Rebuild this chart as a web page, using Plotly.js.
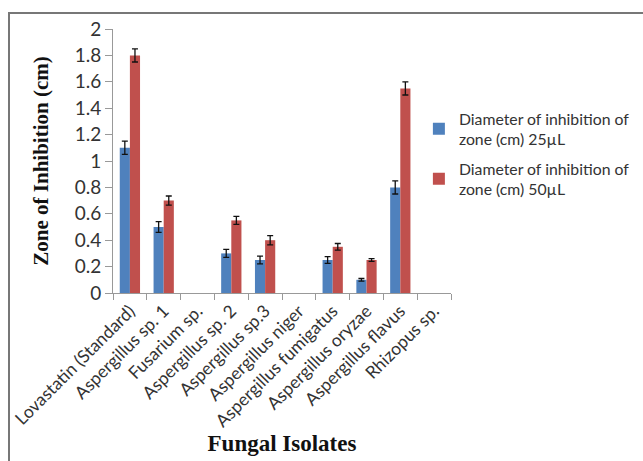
<!DOCTYPE html>
<html>
<head>
<meta charset="utf-8">
<script src="https://cdn.plot.ly/plotly-3.0.1.min.js"></script>
<style>
html,body{margin:0;padding:0;background:#fff;}
#wrap{position:relative;width:643px;height:461px;}
#frame{position:absolute;left:8px;top:12px;width:640px;height:460px;border-top:2px solid #777;border-left:2px solid #777;box-sizing:border-box;pointer-events:none;}
#chart{position:absolute;left:0;top:0;width:643px;height:461px;}
</style>
</head>
<body>
<div id="wrap"><div id="chart"></div><div id="frame"></div></div>
<script>
const categories = ["Lovastatin (Standard)", "Aspergillus sp. 1", "Fusarium sp.", "Aspergillus sp. 2", "Aspergillus sp.3", "Aspergillus niger", "Aspergillus fumigatus", "Aspergillus oryzae", "Aspergillus flavus", "Rhizopus sp."];
const series25 = [1.1, 0.5, null, 0.3, 0.25, null, 0.25, 0.1, 0.8, null];
const err25 = [0.05, 0.04, null, 0.03, 0.03, null, 0.025, 0.01, 0.05, null];
const series50 = [1.8, 0.7, null, 0.55, 0.4, null, 0.35, 0.25, 1.55, null];
const err50 = [0.05, 0.035, null, 0.03, 0.035, null, 0.025, 0.01, 0.05, null];
const seriesNames = ["Diameter of inhibition of<br>zone (cm) 25µL", "Diameter of inhibition of<br>zone (cm) 50µL"];
const yTicks = [0, 0.2, 0.4, 0.6, 0.8, 1, 1.2, 1.4, 1.6, 1.8, 2];

const errStyle = {type: 'data', visible: true, color: '#111', thickness: 1.3, width: 3};
const traces = [
  {type: 'bar', x: categories, y: series25, name: seriesNames[0], legendgroup: 'g25', marker: {color: '#4F81BD'},
   error_y: Object.assign({array: err25}, errStyle)},
  {type: 'bar', x: categories, y: series50, name: seriesNames[1], legendgroup: 'g50', marker: {color: '#C0504D'},
   error_y: Object.assign({array: err50}, errStyle)}
];

const layout = {
  width: 643, height: 461,
  margin: {l: 113, r: 192, t: 29, b: 168, autoexpand: false},
  paper_bgcolor: '#fff', plot_bgcolor: '#fff',
  barmode: 'group', bargap: 0.4, bargroupgap: 0,
  showlegend: true,
  legend: {x: 0.905, xanchor: 'left', y: 0.725, yanchor: 'top', xref: 'paper', yref: 'paper',
    font: {family: 'Lato, "Open Sans", sans-serif', size: 15.8, color: '#333'},
    traceorder: 'grouped', tracegroupgap: 6, itemwidth: 30, bgcolor: 'rgba(0,0,0,0)'},
  xaxis: {
    type: 'category', tickangle: -45, tickson: 'boundaries', ticks: 'outside', ticklen: 6, tickcolor: '#999',
    showline: true, linecolor: '#999', linewidth: 1, showgrid: false,
    tickfont: {family: 'Lato, "Open Sans", sans-serif', size: 17.5, color: '#333'},
    title: {text: '<b>Fungal Isolates</b>', font: {family: '"Liberation Serif", "Times New Roman", serif', size: 23, color: '#111'}, standoff: 0}
  },
  yaxis: {
    range: [0, 2], tickvals: yTicks, ticktext: yTicks.map(String), ticks: 'outside', ticklen: 7, tickcolor: '#999',
    showline: true, linecolor: '#999', linewidth: 1, showgrid: false, zeroline: false,
    tickfont: {family: 'Lato, "Open Sans", sans-serif', size: 19, color: '#333'},
    title: {text: '<b>Zone of Inhibition (cm)</b>', font: {family: '"Liberation Serif", "Times New Roman", serif', size: 21, color: '#111'}, standoff: 20}
  }
};

Plotly.newPlot('chart', traces, layout, {displayModeBar: false, staticPlot: true});
</script>
</body>
</html>
